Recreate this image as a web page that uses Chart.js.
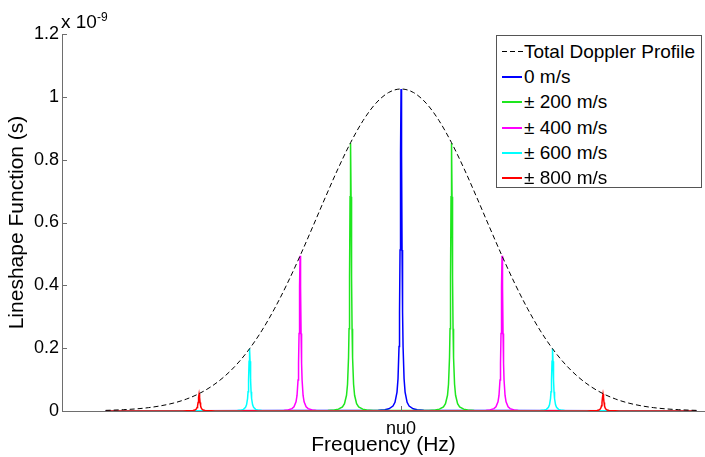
<!DOCTYPE html>
<html>
<head>
<meta charset="utf-8">
<script src="https://cdn.jsdelivr.net/npm/chart.js@4.4.0/dist/chart.umd.min.js"></script>
<style>
  html, body { margin:0; padding:0; background:#fff; }
  #wrap { position:relative; width:705px; height:457px; overflow:hidden; font-family:"Liberation Sans", Arial, sans-serif; }
  canvas { position:absolute; left:0; top:0; }
  #expo { position:absolute; left:61px; top:12px; font-size:19px; color:#000; line-height:19px; white-space:nowrap; }
  #expo sup { font-size:12px; position:relative; top:-4px; vertical-align:top; }
  #legend { position:absolute; left:496px; top:35px; width:206px; height:153px; border:1px solid #555; background:#fff; box-sizing:border-box; }
  .row { position:absolute; left:0; height:25px; width:100%; }
  .sw { position:absolute; left:5px; top:12px; width:20px; height:2px; }
  .sw.dash { left:5px; width:22px; height:1px; background:repeating-linear-gradient(90deg,#000 0 5px,transparent 5px 8px); }
  .lt { position:absolute; left:27px; top:1px; font-size:19px; line-height:23px; color:#000; white-space:nowrap; }
</style>
</head>
<body>
<div id="wrap">
  <canvas id="c" width="705" height="457"></canvas>
  <div id="expo">x 10<sup>-9</sup></div>
  <div id="legend"></div>
</div>
<script>
// ---- Data (values in units of 1e-9 s; x in m/s offset from nu0) ----
const profileVel = [-1170,-1150,-1100,-1050,-1000,-950,-900,-850,-800,-750,-700,-650,-600,-550,-500,-450,-400,-350,-300,-250,-200,-150,-100,-50,0,50,100,150,200,250,300,350,400,450,500,550,600,650,700,750,800,850,900,950,1000,1050,1100,1150,1170];
const profileVals = [0.0020,0.0025,0.0042,0.0067,0.0107,0.0168,0.0255,0.0380,0.0553,0.0788,0.1096,0.1491,0.1983,0.2577,0.3275,0.4067,0.4938,0.5860,0.6797,0.7706,0.8539,0.9249,0.9793,1.0134,1.025,1.0134,0.9793,0.9249,0.8539,0.7706,0.6797,0.5860,0.4938,0.4067,0.3275,0.2577,0.1983,0.1491,0.1096,0.0788,0.0553,0.0380,0.0255,0.0168,0.0107,0.0067,0.0042,0.0025,0.0020];

const peakOffsets = [-90,-64,-48,-32,-24,-16,-12,-8,-6,-4,-2,0,2,4,6,8,12,16,24,32,48,64,90];
const vel0Centers   = [0];
const vel200Centers = [-200, 200];
const vel400Centers = [-400, 400];
const vel600Centers = [-600, 600];
const vel800Centers = [-800, 800];
const vel0Vals   = [0.0021,0.0040,0.0071,0.0158,0.0277,0.0603,0.1025,0.2050,0.3154,0.5125,0.8200,1.025,0.8200,0.5125,0.3154,0.2050,0.1025,0.0603,0.0277,0.0158,0.0071,0.0040,0.0021];
const vel200Vals = [0.0017,0.0033,0.0059,0.0131,0.0230,0.0501,0.0852,0.1704,0.2622,0.4260,0.6816,0.852,0.6816,0.4260,0.2622,0.1704,0.0852,0.0501,0.0230,0.0131,0.0059,0.0033,0.0017];
const vel400Vals = [0.0010,0.0019,0.0034,0.0076,0.0133,0.0290,0.0494,0.0988,0.1520,0.2470,0.3952,0.494,0.3952,0.2470,0.1520,0.0988,0.0494,0.0290,0.0133,0.0076,0.0034,0.0019,0.0010];
const vel600Vals = [0.0004,0.0008,0.0014,0.0030,0.0053,0.0116,0.0198,0.0396,0.0609,0.0990,0.1584,0.198,0.1584,0.0990,0.0609,0.0396,0.0198,0.0116,0.0053,0.0030,0.0014,0.0008,0.0004];
const vel800Vals = [0.0001,0.0002,0.0004,0.0008,0.0015,0.0032,0.0054,0.0108,0.0166,0.0270,0.0432,0.054,0.0432,0.0270,0.0166,0.0108,0.0054,0.0032,0.0015,0.0008,0.0004,0.0002,0.0001];
const spanEnds = [-1170, 1170];

const seriesNames = ['Total Doppler Profile','0 m/s','\u00B1 200 m/s','\u00B1 400 m/s','\u00B1 600 m/s','\u00B1 800 m/s'];
const seriesColors = ['#000000','#0000ff','#1ee61e','#ff00ff','#00ffff','#ff0000'];
const yTickLabels = ['0','0.2','0.4','0.6','0.8','1','1.2'];
const xTickLabels = ['nu0'];

// ---- Build datasets ----
function peakSeries(centers, vals) {
  const pts = [{x: spanEnds[0], y: 0}];
  centers.forEach(c => peakOffsets.forEach((o, i) => pts.push({x: c + o, y: vals[i]})));
  pts.push({x: spanEnds[1], y: 0});
  return pts;
}
const profilePts = profileVel.map((v, i) => ({x: v, y: profileVals[i]}));
const peakData = [
  peakSeries(vel0Centers, vel0Vals),
  peakSeries(vel200Centers, vel200Vals),
  peakSeries(vel400Centers, vel400Vals),
  peakSeries(vel600Centers, vel600Vals),
  peakSeries(vel800Centers, vel800Vals)
];
const drawOrder = [0, 5, 4, 3, 2, 1];
const datasets = [{
  label: seriesNames[0], data: profilePts, borderColor: seriesColors[0], borderWidth: 1,
  borderDash: [5, 3], pointRadius: 0, cubicInterpolationMode: 'monotone', order: drawOrder[0], fill: false
}];
peakData.forEach((d, k) => datasets.push({
  label: seriesNames[k+1], data: d, borderColor: seriesColors[k+1], borderWidth: 1.5,
  pointRadius: 0, tension: 0, order: drawOrder[k+1], fill: false
}));

// ---- HTML legend ----
const leg = document.getElementById('legend');
seriesNames.forEach((n, i) => {
  const r = document.createElement('div');
  r.className = 'row';
  r.style.top = (3 + i * 25.2) + 'px';
  const sw = document.createElement('div');
  sw.className = 'sw' + (i === 0 ? ' dash' : '');
  if (i > 0) sw.style.backgroundColor = seriesColors[i];
  const t = document.createElement('div');
  t.className = 'lt';
  t.textContent = n;
  r.appendChild(sw); r.appendChild(t);
  leg.appendChild(r);
});

const innerTicks = {
  id: 'innerTicks',
  afterDraw(chart) {
    const {ctx, chartArea: a, scales: {x, y}} = chart;
    ctx.save();
    ctx.strokeStyle = '#6e6e6e';
    ctx.lineWidth = 1;
    ctx.beginPath();
    y.ticks.forEach(t => {
      const py = Math.round(y.getPixelForValue(t.value)) + 0.5;
      ctx.moveTo(a.left, py); ctx.lineTo(a.left + 5, py);
    });
    x.ticks.forEach(t => {
      const px = Math.round(x.getPixelForValue(t.value)) + 0.5;
      ctx.moveTo(px, a.bottom); ctx.lineTo(px, a.bottom - 5);
    });
    ctx.stroke();
    ctx.restore();
  }
};

Chart.defaults.font.family = '"Liberation Sans", Arial, sans-serif';
Chart.defaults.color = '#000';

new Chart(document.getElementById('c'), {
  type: 'line',
  data: { datasets },
  options: {
    responsive: false,
    animation: false,
    devicePixelRatio: 1,
    layout: { padding: { top: 34, right: 0, left: 0, bottom: 0 } },
    plugins: { legend: { display: false }, tooltip: { enabled: false } },
    scales: {
      x: {
        type: 'linear', min: -1343, max: 1204,
        grid: { display: false, drawTicks: false },
        border: { display: true, color: '#6e6e6e', width: 1 },
        afterBuildTicks: s => { s.ticks = [{ value: 0 }]; },
        afterFit: s => { s.height = 46; },
        ticks: { padding: 7, font: { size: 18 }, maxRotation: 0, autoSkip: false,
                 callback: (v, i) => xTickLabels[i] },
        title: { display: true, text: 'Frequency (Hz)', font: { size: 21, lineHeight: 1 }, padding: { top: 0, bottom: 1 } }
      },
      y: {
        type: 'linear', min: 0, max: 1.2,
        grid: { display: false, drawTicks: false },
        border: { display: true, color: '#6e6e6e', width: 1 },
        afterFit: s => { s.width = 62; },
        ticks: { stepSize: 0.2, padding: 3, font: { size: 18 }, callback: (v, i) => yTickLabels[i] },
        title: { display: true, text: 'Lineshape Function (s)', font: { size: 21, lineHeight: 1 }, padding: { top: 7, bottom: 0 } }
      }
    }
  },
  plugins: [innerTicks]
});
</script>
</body>
</html>
